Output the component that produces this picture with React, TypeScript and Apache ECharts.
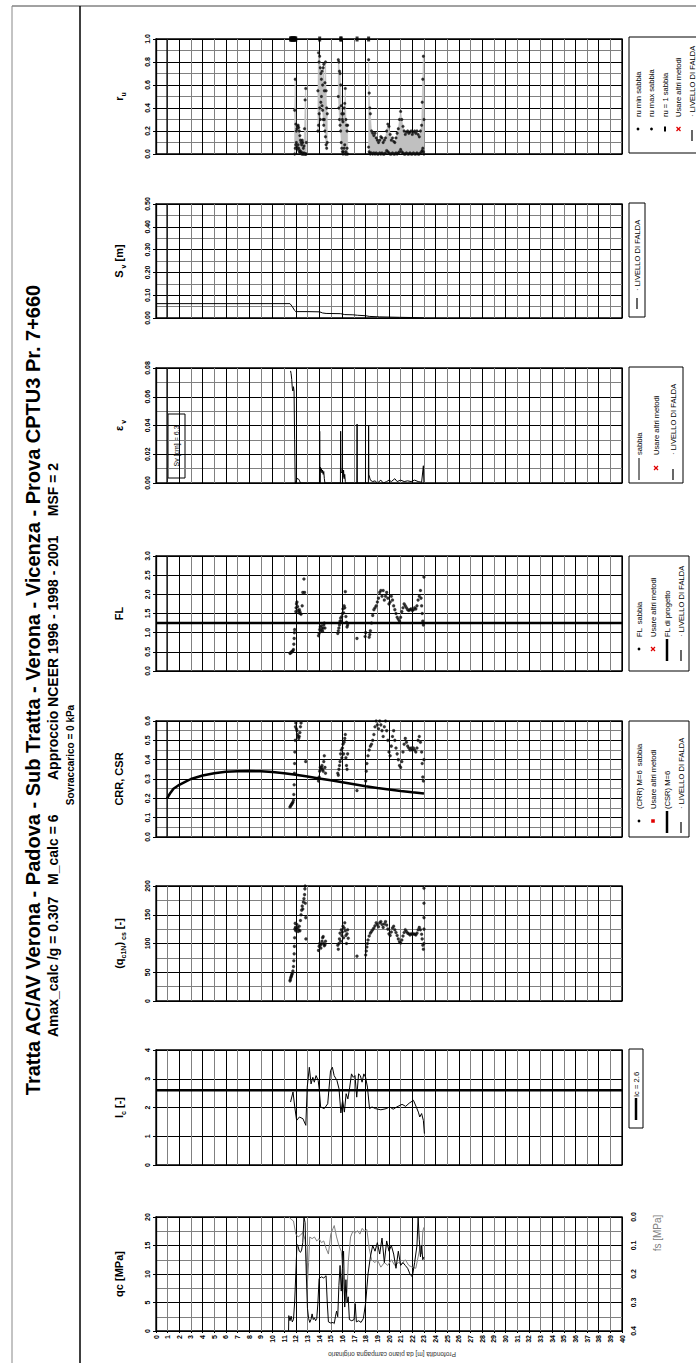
import { useEffect, useRef } from "react";
import * as echarts from "echarts";

const FONT = "'Liberation Sans', Arial, sans-serif";

// ---------------- DATA ----------------
const FALDA_DEPTH = 0.95;
const IC_LIMIT = 2.6;
const FL_PROGETTO = 1.25;

// qc [MPa] vs depth
const QC: number[][] = [[11.38,0],[11.4,2.7],[11.5,1.8],[11.6,2.6],[11.7,1.6],[11.8,2.0],[11.9,5.0],[12.0,10.0],[12.1,15.2],[12.2,14.8],[12.3,14.0],[12.4,13.8],[12.5,14.2],[12.6,15.5],[12.7,20.0],[12.8,19.0],[12.9,10.0],[13.0,4.0],[13.1,2.2],[13.2,1.5],[13.3,2.0],[13.4,3.0],[13.5,2.0],[13.6,2.3],[13.7,1.8],[13.8,2.2],[13.9,5.0],[14.0,9.2],[14.2,9.5],[14.4,9.3],[14.6,9.7],[14.7,5.0],[14.8,1.6],[15.0,1.4],[15.2,1.5],[15.3,1.3],[15.4,2.5],[15.5,3.5],[15.6,2.5],[15.7,8.0],[15.8,11.5],[15.9,7.0],[16.0,11.0],[16.1,14.0],[16.2,4.2],[16.3,9.0],[16.4,5.0],[16.5,6.0],[16.6,2.0],[16.8,1.8],[17.0,2.0],[17.1,4.8],[17.2,1.6],[17.4,1.8],[17.6,1.5],[17.8,2.2],[18.0,5.0],[18.2,10.0],[18.4,13.0],[18.6,15.0],[18.8,14.0],[19.0,15.5],[19.2,13.5],[19.4,16.3],[19.6,12.0],[19.8,15.8],[20.0,14.0],[20.2,15.0],[20.4,13.5],[20.6,11.0],[20.8,14.0],[21.0,11.5],[21.2,12.0],[21.4,11.5],[21.6,11.0],[21.8,10.0],[22.0,9.5],[22.2,12.0],[22.4,15.0],[22.5,20.0],[22.6,16.0],[22.7,13.0],[22.8,15.0],[22.9,12.5],[23.0,13.0]];

// fs [MPa] vs depth (secondary, inverted axis)
const FS: number[][] = [[11.4,0.0],[11.6,0.008],[11.8,0.014],[12.0,0.06],[12.2,0.07],[12.4,0.064],[12.6,0.054],[12.8,0.08],[12.9,0.16],[13.0,0.23],[13.1,0.16],[13.2,0.07],[13.4,0.076],[13.6,0.07],[13.8,0.084],[14.0,0.076],[14.2,0.09],[14.4,0.084],[14.6,0.11],[14.8,0.13],[15.0,0.06],[15.2,0.04],[15.3,0.03],[15.5,0.07],[15.7,0.10],[15.9,0.12],[16.1,0.22],[16.2,0.30],[16.4,0.26],[16.5,0.16],[16.7,0.07],[16.9,0.05],[17.1,0.056],[17.3,0.048],[17.5,0.06],[17.7,0.04],[17.9,0.05],[18.1,0.044],[18.3,0.11],[18.5,0.15],[18.8,0.16],[19.0,0.15],[19.3,0.176],[19.6,0.16],[19.9,0.17],[20.2,0.15],[20.5,0.17],[20.8,0.16],[21.1,0.164],[21.4,0.15],[21.7,0.17],[22.0,0.176],[22.3,0.18],[22.5,0.14],[22.7,0.10],[22.8,0.13],[22.9,0.05],[23.0,0.036]];

// Ic vs depth
const IC: number[][] = [[11.55,2.19],[11.76,2.54],[11.91,2.02],[12.07,1.55],[12.31,1.67],[12.61,1.61],[12.86,1.38],[12.98,2.7],[13.16,3.4],[13.31,2.82],[13.46,3.05],[13.59,2.88],[13.74,3.11],[13.92,2.94],[14.01,2.65],[14.13,2.02],[14.44,1.96],[14.74,2.13],[14.98,3.28],[15.14,3.4],[15.29,3.11],[15.53,2.94],[15.71,2.65],[15.87,1.81],[16.02,2.25],[16.17,1.84],[16.32,2.48],[16.47,2.3],[16.63,2.71],[16.78,3.17],[16.93,3.05],[17.08,3.11],[17.23,2.36],[17.39,3.17],[17.54,3.11],[17.69,2.88],[17.84,3.17],[17.99,3.05],[18.15,2.71],[18.33,1.96],[18.54,2.02],[18.84,1.96],[19.3,1.92],[19.76,1.96],[20.06,2.02],[20.36,1.94],[20.67,2.02],[21.12,2.11],[21.43,2.04],[21.73,2.15],[22.1,2.25],[22.34,2.02],[22.52,1.84],[22.64,1.67],[22.8,1.79],[22.95,1.55],[23.04,1.09]];

// (qc1N)cs vs depth
const QC1N: number[][] = [[11.5,35],[11.53,37],[11.56,40],[11.6,42],[11.63,44],[11.66,46],[11.7,48],[11.75,52],[11.8,60],[11.83,70],[11.86,82],[11.88,95],[11.9,110],[11.92,125],[11.95,135],[11.97,128],[12.0,122],[12.05,126],[12.1,133],[12.15,128],[12.2,121],[12.25,124],[12.3,130],[12.35,122],[12.4,140],[12.45,150],[12.5,158],[12.55,165],[12.6,160],[12.65,172],[12.7,178],[12.75,185],[12.78,195],[12.8,200],[12.82,170],[12.85,145],[12.87,108],
[13.95,88],[14.0,95],[14.05,100],[14.1,97],[14.15,92],[14.2,99],[14.25,104],[14.3,110],[14.35,112],[14.4,100],[14.45,96],[14.5,98],[14.55,104],
[15.6,97],[15.65,90],[15.7,100],[15.75,108],[15.8,118],[15.85,104],[15.9,124],[15.95,114],[16.0,120],[16.05,130],[16.1,110],[16.15,127],[16.2,136],[16.25,122],[16.3,114],[16.35,100],[16.4,117],[16.45,124],[16.5,109],
[17.25,78],
[18.0,80],[18.05,87],[18.1,94],[18.15,100],[18.2,106],[18.3,113],[18.4,118],[18.5,121],[18.6,124],[18.7,127],[18.8,131],[18.9,136],[19.0,133],[19.1,129],[19.2,136],[19.3,138],[19.4,133],[19.5,128],[19.6,134],[19.7,138],[19.8,132],[19.9,125],[20.0,117],[20.1,114],[20.2,120],[20.3,127],[20.4,130],[20.5,124],[20.6,119],[20.7,114],[20.8,108],[20.9,103],[21.0,101],[21.1,106],[21.2,113],[21.3,119],[21.4,124],[21.5,121],[21.6,118],[21.7,117],[21.8,115],[21.9,117],[22.0,116],[22.1,117],[22.2,116],[22.3,115],[22.4,118],[22.5,124],[22.6,128],[22.7,124],[22.8,116],[22.85,108],[22.9,97],[22.95,90],[23.0,100],[23.0,125],[23.0,145],[23.0,170],[23.0,196]];

// CRR (M=6) vs depth
const CRR: number[][] = [[11.5,0.155],[11.55,0.16],[11.6,0.165],[11.65,0.17],[11.7,0.175],[11.75,0.18],[11.8,0.19],[11.83,0.22],[11.86,0.27],[11.88,0.33],[11.9,0.38],[11.92,0.44],[11.95,0.5],[11.97,0.57],[12.0,0.59],[12.05,0.56],[12.1,0.55],[12.15,0.53],[12.2,0.52],[12.25,0.51],[12.3,0.52],[12.35,0.54],[12.4,0.57],[12.45,0.59],[12.85,0.39],
[13.95,0.29],[14.0,0.31],[14.05,0.34],[14.1,0.36],[14.15,0.35],[14.2,0.36],[14.25,0.37],[14.3,0.35],[14.35,0.34],[14.4,0.39],[14.45,0.42],[14.5,0.36],[14.55,0.33],
[15.6,0.33],[15.65,0.32],[15.7,0.35],[15.75,0.37],[15.8,0.39],[15.85,0.43],[15.9,0.45],[15.95,0.41],[16.0,0.46],[16.05,0.48],[16.1,0.43],[16.15,0.49],[16.2,0.51],[16.25,0.53],[16.3,0.41],[16.35,0.37],[16.4,0.35],[16.45,0.43],
[17.25,0.24],
[18.0,0.29],[18.05,0.34],[18.1,0.38],[18.2,0.42],[18.3,0.45],[18.4,0.47],[18.5,0.48],[18.6,0.5],[18.7,0.53],[18.8,0.57],[18.9,0.6],[19.0,0.58],[19.1,0.56],[19.2,0.6],[19.3,0.58],[19.4,0.55],[19.5,0.52],[19.6,0.57],[19.7,0.6],[19.8,0.55],[19.9,0.5],[20.0,0.44],[20.1,0.42],[20.2,0.47],[20.3,0.52],[20.4,0.55],[20.5,0.5],[20.6,0.46],[20.7,0.43],[20.8,0.4],[20.9,0.37],[21.0,0.36],[21.1,0.39],[21.2,0.44],[21.3,0.48],[21.4,0.51],[21.5,0.49],[21.6,0.47],[21.7,0.46],[21.8,0.45],[21.9,0.46],[22.0,0.45],[22.1,0.46],[22.2,0.45],[22.3,0.44],[22.4,0.46],[22.5,0.5],[22.6,0.52],[22.7,0.49],[22.8,0.44],[22.85,0.38],[22.9,0.31],[22.95,0.29],[23.0,0.4]];

// CSR (M=6) vs depth
const CSR: number[][] = [[0.95,0.2],[1.2,0.225],[1.5,0.25],[2.0,0.27],[2.5,0.285],[3.0,0.3],[4.0,0.318],[5.0,0.33],[6.0,0.337],[7.0,0.34],[8.0,0.341],[9.0,0.34],[10.0,0.336],[11.0,0.33],[12.0,0.322],[13.0,0.313],[14.0,0.303],[15.0,0.293],[16.0,0.283],[17.0,0.273],[18.0,0.263],[19.0,0.254],[20.0,0.246],[21.0,0.238],[22.0,0.231],[23.0,0.225]];

// FL vs depth
const FL: number[][] = [[11.5,0.46],[11.55,0.47],[11.6,0.49],[11.65,0.5],[11.7,0.51],[11.75,0.53],[11.8,0.56],[11.83,0.7],[11.86,0.85],[11.88,1.0],[11.9,1.08],[12.0,1.55],[12.03,1.65],[12.06,1.75],[12.1,1.8],[12.15,1.68],[12.2,1.58],[12.25,1.52],[12.3,1.6],[12.35,1.55],[12.4,1.5],[12.45,1.48],[12.55,1.7],[12.6,2.05],[12.7,2.4],[12.75,2.05],
[13.95,0.92],[14.0,0.98],[14.05,1.08],[14.1,1.15],[14.15,1.05],[14.2,1.18],[14.25,1.1],[14.3,1.04],[14.35,1.12],[14.4,1.2],[14.45,1.25],[14.5,1.12],
[15.6,0.98],[15.65,1.05],[15.7,1.12],[15.75,1.2],[15.8,1.3],[15.85,1.38],[15.9,1.3],[15.95,1.42],[16.0,1.5],[16.05,1.62],[16.1,1.52],[16.15,1.7],[16.2,1.65],[16.25,2.07],[16.3,1.42],[16.35,1.27],[16.4,1.15],[16.45,1.2],
[17.25,0.85],[17.95,0.9],[18.0,1.0],
[18.3,0.88],[18.35,0.95],[18.4,1.05],[18.5,1.25],[18.6,1.45],[18.7,1.6],[18.8,1.65],[18.9,1.7],[19.0,1.8],[19.1,1.9],[19.2,2.05],[19.3,2.1],[19.4,1.95],[19.5,2.1],[19.6,1.85],[19.7,1.95],[19.8,2.05],[19.9,1.9],[20.0,1.75],[20.1,1.8],[20.2,1.95],[20.3,1.85],[20.4,1.7],[20.5,1.6],[20.6,1.5],[20.7,1.4],[20.8,1.35],[20.9,1.3],[21.0,1.4],[21.1,1.55],[21.2,1.65],[21.3,1.75],[21.4,1.7],[21.5,1.65],[21.6,1.6],[21.7,1.58],[21.8,1.6],[21.9,1.62],[22.0,1.58],[22.1,1.6],[22.2,1.65],[22.3,1.62],[22.4,1.7],[22.5,1.85],[22.6,1.95],[22.7,2.1],[22.75,1.9],[22.8,1.7],[22.85,1.5],[22.9,1.3],[22.95,1.2],[23.0,2.45]];

// volumetric strain εv vs depth
const EV: number[][] = [[11.55,0.078],[11.6,0.076],[11.65,0.072],[11.7,0.066],[11.75,0.064],[11.8,0.067],[11.85,0.064],[11.9,0.03],[11.95,0.0],[12.0,0.001],[12.1,0.003],[12.2,0.003],[12.3,0.002],[12.4,0.0],[12.9,0.0],[14.03,0.0],[14.05,0.036],[14.08,0.0],[14.1,0.011],[14.15,0.008],[14.2,0.01],[14.25,0.007],[14.3,0.009],[14.35,0.006],[14.4,0.008],[14.45,0.003],[14.5,0.0],[15.83,0.0],[15.85,0.036],[15.88,0.008],[15.95,0.007],[16.0,0.01],[16.05,0.004],[16.1,0.009],[16.15,0.003],[16.2,0.006],[16.25,0.001],[16.3,0.0],[17.24,0.0],[17.26,0.041],[17.28,0.0],[18.23,0.0],[18.25,0.04],[18.27,0.006],[18.4,0.002],[18.6,0.001],[18.8,0.0015],[19.0,0.0],[19.3,0.002],[19.5,0.0],[19.8,0.001],[20.0,0.002],[20.2,0.001],[20.5,0.003],[20.7,0.001],[21.0,0.002],[21.3,0.001],[21.6,0.0015],[21.9,0.001],[22.2,0.002],[22.5,0.001],[22.8,0.0005],[22.95,0.012],[23.0,0.0]];

// settlement Sv [m] vs depth
const SV: number[][] = [[0,0.063],[11.5,0.063],[11.7,0.05],[11.9,0.033],[12.0,0.028],[13.0,0.028],[14.05,0.027],[14.3,0.022],[14.6,0.02],[15.85,0.019],[16.2,0.015],[16.9,0.014],[17.3,0.012],[18.0,0.01],[18.3,0.007],[19.2,0.005],[20.9,0.003],[22.0,0.002],[23.0,0.0]];
const SV_TOTAL_CM = "6.3";

// ru min / max per sandy layer
const RU_MAX_1: number[][] = [[11.9,0.38],[11.95,0.65],[12.0,0.26],[12.05,0.2],[12.1,0.22],[12.15,0.24],[12.2,0.25],[12.25,0.23],[12.3,0.2],[12.35,0.16],[12.4,0.12],[12.45,0.1],[12.5,0.08],[12.55,0.12],[12.6,0.1],[12.65,0.05],[12.7,0.07],[12.75,0.22],[12.8,0.47],[12.85,0.57],[12.9,0.1]];
const RU_MIN_1: number[][] = [[11.9,0.0],[11.95,0.05],[12.0,0.08],[12.05,0.1],[12.1,0.06],[12.15,0.04],[12.2,0.08],[12.25,0.05],[12.3,0.02],[12.35,0.03],[12.4,0.01],[12.45,0.02],[12.5,0.0],[12.55,0.01],[12.6,0.0],[12.65,0.0],[12.7,0.01],[12.75,0.0],[12.8,0.0],[12.85,0.0],[12.9,0.0]];
const RU_MAX_2: number[][] = [[13.9,0.55],[13.95,0.88],[14.0,0.8],[14.05,0.85],[14.1,0.75],[14.15,0.7],[14.2,0.65],[14.25,0.72],[14.3,0.6],[14.35,0.75],[14.4,0.78],[14.45,0.55],[14.5,0.62],[14.55,0.8],[14.6,0.55],[14.65,0.4],[14.7,0.35]];
const RU_MIN_2: number[][] = [[13.9,0.2],[13.95,0.25],[14.0,0.35],[14.05,0.4],[14.1,0.3],[14.15,0.45],[14.2,0.5],[14.25,0.42],[14.3,0.38],[14.35,0.3],[14.4,0.25],[14.45,0.3],[14.5,0.2],[14.55,0.15],[14.6,0.08],[14.65,0.05],[14.7,0.1]];
const RU_MAX_3: number[][] = [[15.65,0.82],[15.7,0.8],[15.75,0.72],[15.8,0.7],[15.85,0.6],[15.9,0.42],[15.95,0.35],[16.0,0.3],[16.05,0.28],[16.1,0.35],[16.15,0.4],[16.2,0.44],[16.25,0.57],[16.3,0.3],[16.35,0.25],[16.4,0.2],[16.45,0.25]];
const RU_MIN_3: number[][] = [[15.65,0.5],[15.7,0.4],[15.75,0.3],[15.8,0.25],[15.85,0.2],[15.9,0.1],[15.95,0.05],[16.0,0.02],[16.05,0.0],[16.1,0.02],[16.15,0.05],[16.2,0.08],[16.25,0.0],[16.3,0.02],[16.35,0.0],[16.4,0.05],[16.45,0.0]];
const RU_MAX_4: number[][] = [[18.25,0.82],[18.3,0.53],[18.35,0.4],[18.4,0.35],[18.5,0.2],[18.6,0.18],[18.7,0.16],[18.8,0.18],[18.9,0.14],[19.0,0.12],[19.1,0.1],[19.2,0.12],[19.3,0.15],[19.4,0.14],[19.5,0.1],[19.6,0.12],[19.7,0.14],[19.8,0.2],[19.9,0.26],[20.0,0.24],[20.1,0.17],[20.2,0.12],[20.3,0.14],[20.4,0.11],[20.5,0.1],[20.6,0.14],[20.7,0.18],[20.8,0.22],[20.9,0.3],[21.0,0.37],[21.1,0.3],[21.2,0.24],[21.3,0.2],[21.4,0.17],[21.5,0.19],[21.6,0.2],[21.7,0.18],[21.8,0.19],[21.9,0.2],[22.0,0.17],[22.1,0.19],[22.2,0.2],[22.3,0.18],[22.4,0.2],[22.5,0.17],[22.6,0.15],[22.7,0.2],[22.8,0.25],[22.85,0.45],[22.9,0.65],[22.95,0.85],[23.0,0.3]];
const RU_MIN_4: number[][] = [[18.25,0.06],[18.3,0.02],[18.35,0.01],[18.4,0.0],[18.5,0.01],[18.6,0.0],[18.7,0.01],[18.8,0.0],[18.9,0.01],[19.0,0.0],[19.1,0.0],[19.2,0.01],[19.3,0.0],[19.4,0.01],[19.5,0.0],[19.6,0.0],[19.7,0.01],[19.8,0.03],[19.9,0.02],[20.0,0.01],[20.1,0.0],[20.2,0.0],[20.3,0.01],[20.4,0.0],[20.5,0.0],[20.6,0.01],[20.7,0.0],[20.8,0.01],[20.9,0.02],[21.0,0.04],[21.1,0.02],[21.2,0.01],[21.3,0.0],[21.4,0.0],[21.5,0.01],[21.6,0.0],[21.7,0.0],[21.8,0.01],[21.9,0.0],[22.0,0.0],[22.1,0.01],[22.2,0.0],[22.3,0.0],[22.4,0.01],[22.5,0.0],[22.6,0.0],[22.7,0.01],[22.8,0.02],[22.85,0.03],[22.9,0.05],[22.95,0.02],[23.0,0.0]];
const RU_ONE: number[][] = [[11.55,1],[11.6,1],[11.65,1],[11.7,1],[11.75,1],[11.8,1],[11.85,1],[11.9,1],[11.95,1],[12.0,1],[14.05,1],[15.85,1],[15.9,1],[17.26,1],[18.25,1]];

// ---------------- LAYOUT ----------------
const GL = 156;
const GW = 466;
type Panel = { top: number; h: number; min: number; max: number; interval: number; minor: boolean; dec: number; name: string };
const PANELS: Panel[] = [
  { top: 39, h: 115, min: 0, max: 1, interval: 0.2, minor: true, dec: 1, name: "{b|r}{s|u}" },
  { top: 204, h: 114, min: 0, max: 0.5, interval: 0.1, minor: true, dec: 2, name: "{b|S}{s| v}{b| [m]}" },
  { top: 368, h: 115, min: 0, max: 0.08, interval: 0.02, minor: true, dec: 2, name: "{b|ε}{s| v}" },
  { top: 556, h: 115, min: 0, max: 3, interval: 0.5, minor: false, dec: 1, name: "{b|FL}" },
  { top: 721, h: 116, min: 0, max: 0.6, interval: 0.1, minor: true, dec: 1, name: "{b|CRR, CSR}" },
  { top: 886, h: 115, min: 0, max: 200, interval: 50, minor: true, dec: 0, name: "{b|(q}{s|c1N}{b|)}{s| cs}{b| [-]}" },
  { top: 1050, h: 115, min: 0, max: 4, interval: 1, minor: false, dec: 0, name: "{b|I}{s|c}{b| [-]}" },
  { top: 1217, h: 114, min: 0, max: 20, interval: 5, minor: true, dec: 0, name: "{b|qc [MPa]}" },
];

type LegendRow = { icon: string; text: string };
type LegendCfg = { x: number; bottom: number; len: number; wid: number; row0: number; step: number; keyX: number; textX: number; rows: LegendRow[] };
const FALDA_TXT = "· LIVELLO DI FALDA";
const LEGENDS: LegendCfg[] = [
  { x: 629, bottom: 153, len: 116, wid: 75, row0: 9, step: 13.5, keyX: 24, textX: 36,
    rows: [{ icon: "dot", text: "ru min sabbia" }, { icon: "dot", text: "ru max sabbia" }, { icon: "dash", text: "ru = 1 sabbia" }, { icon: "x", text: "Usare altri metodi" }, { icon: "falda", text: FALDA_TXT }] },
  { x: 629, bottom: 317, len: 114, wid: 16, row0: 8, step: 14, keyX: 20, textX: 26, rows: [{ icon: "falda", text: FALDA_TXT }] },
  { x: 629, bottom: 483, len: 116, wid: 54, row0: 10, step: 17, keyX: 15, textX: 28,
    rows: [{ icon: "thin", text: "sabbia" }, { icon: "x", text: "Usare altri metodi" }, { icon: "falda", text: FALDA_TXT }] },
  { x: 629, bottom: 671, len: 115, wid: 60, row0: 10, step: 14, keyX: 22, textX: 34,
    rows: [{ icon: "dot", text: "FL  sabbia" }, { icon: "x", text: "Usare altri metodi" }, { icon: "thick", text: "FL di progetto" }, { icon: "falda", text: FALDA_TXT }] },
  { x: 629, bottom: 837, len: 116, wid: 60, row0: 10, step: 14, keyX: 16, textX: 28,
    rows: [{ icon: "dot", text: "(CRR) M=6  sabbia" }, { icon: "square", text: "Usare altri metodi" }, { icon: "thick", text: "(CSR) M=6" }, { icon: "falda", text: FALDA_TXT }] },
  { x: 629, bottom: 1128, len: 79, wid: 14, row0: 7, step: 14, keyX: 20, textX: 31, rows: [{ icon: "thick", text: "Ic = 2.6" }] },
];

function legendGroup(L: LegendCfg) {
  const children: any[] = [
    { type: "rect", shape: { x: 0, y: 0, width: L.len, height: L.wid }, style: { fill: "#fff", stroke: "#000", lineWidth: 1 } },
  ];
  L.rows.forEach((r, i) => {
    const cy = L.row0 + i * L.step;
    const k = L.keyX;
    if (r.icon === "dot") children.push({ type: "circle", shape: { cx: k, cy, r: 1.4 }, style: { fill: "#000" } });
    if (r.icon === "dash") children.push({ type: "rect", shape: { x: k - 2.5, y: cy - 1, width: 5, height: 2 }, style: { fill: "#000" } });
    if (r.icon === "square") children.push({ type: "rect", shape: { x: k - 1.8, y: cy - 1.8, width: 3.6, height: 3.6 }, style: { fill: "#e00000" } });
    if (r.icon === "x") {
      children.push({ type: "line", shape: { x1: k - 2, y1: cy - 2, x2: k + 2, y2: cy + 2 }, style: { stroke: "#e00000", lineWidth: 1.3 } });
      children.push({ type: "line", shape: { x1: k - 2, y1: cy + 2, x2: k + 2, y2: cy - 2 }, style: { stroke: "#e00000", lineWidth: 1.3 } });
    }
    if (r.icon === "thick") children.push({ type: "line", shape: { x1: k - 12, y1: cy, x2: k + 10, y2: cy }, style: { stroke: "#000", lineWidth: 2.5 } });
    if (r.icon === "thin") children.push({ type: "line", shape: { x1: k - 12, y1: cy, x2: k + 10, y2: cy }, style: { stroke: "#000", lineWidth: 1 } });
    if (r.icon === "falda") children.push({ type: "line", shape: { x1: k - 12, y1: cy, x2: k - 1, y2: cy }, style: { stroke: "#000", lineWidth: 1.2 } });
    children.push({
      type: "text", x: L.textX, y: cy,
      style: { text: r.text, fontSize: 7.6, fontFamily: FONT, fill: "#000", align: "left", verticalAlign: "middle", textAlign: "left", textVerticalAlign: "middle" },
    });
  });
  return { type: "group", x: L.x, y: L.bottom, rotation: Math.PI / 2, children };
}

function rotText(x: number, y: number, text: string, size: number, bold: boolean, color = "#000", rot = Math.PI / 2) {
  return {
    type: "text", x, y, rotation: rot,
    style: { text, fontSize: size, fontWeight: bold ? "bold" : "normal", fontFamily: FONT, fill: color, align: "center", verticalAlign: "middle", textAlign: "center", textVerticalAlign: "middle" },
  };
}

function buildOption() {
  const rich = {
    b: { fontSize: 11, fontWeight: "bold", fontFamily: FONT, color: "#000", lineHeight: 17, verticalAlign: "middle" },
    s: { fontSize: 7, fontWeight: "bold", fontFamily: FONT, color: "#000", lineHeight: 17, verticalAlign: "bottom" },
  };
  const grid = PANELS.map((p) => ({ left: GL, width: GW, top: p.top, height: p.h, show: true, borderColor: "#000", borderWidth: 1.3, backgroundColor: "rgba(0,0,0,0)" }));
  const xAxis = PANELS.map((_, i) => ({
    type: "value", gridIndex: i, min: 0, max: 40, interval: 1,
    axisLine: { show: false }, axisTick: { show: i === 7, length: 2, lineStyle: { color: "#000" } },
    axisLabel: i === 7 ? { show: true, rotate: 90, fontSize: 7, fontWeight: "bold", margin: 4, color: "#000", fontFamily: FONT } : { show: false },
    splitLine: { show: true, lineStyle: { color: ["#000", "#808080"], width: 1 } },
  }));
  const yAxis: any[] = PANELS.map((p, i) => ({
    type: "value", gridIndex: i, min: p.min, max: p.max, interval: p.interval,
    axisLine: { show: true, lineStyle: { color: "#000", width: 1.3 } },
    axisTick: { show: true, length: 3, lineStyle: { color: "#000" } },
    axisLabel: { rotate: 90, fontSize: 7, fontWeight: "bold", margin: 5, color: "#000", fontFamily: FONT, formatter: (v: number) => v.toFixed(p.dec) },
    splitLine: { show: true, lineStyle: { color: "#000", width: 1 } },
    minorTick: { show: false, splitNumber: 2 },
    minorSplitLine: { show: p.minor, lineStyle: { color: "#808080", width: 1 } },
    name: p.name, nameLocation: "middle", nameRotate: 90, nameGap: 29,
    nameTextStyle: { rich },
  }));
  yAxis.push({
    type: "value", gridIndex: 7, position: "right", min: 0, max: 0.4, interval: 0.1, inverse: true,
    axisLine: { show: false }, axisTick: { show: false },
    axisLabel: { rotate: 90, fontSize: 7, fontWeight: "bold", margin: 8, color: "#000", fontFamily: FONT, formatter: (v: number) => v.toFixed(1) },
    splitLine: { show: false },
  });

  const line = (gi: number, data: number[][], width: number, color = "#000", yi = gi) => ({
    type: "line", xAxisIndex: gi, yAxisIndex: yi, data, symbol: "none", lineStyle: { color, width }, silent: true,
  });
  const scatter = (gi: number, data: number[][], size = 3, color = "#000") => ({
    type: "scatter", xAxisIndex: gi, yAxisIndex: gi, data, symbolSize: size, itemStyle: { color, borderColor: "#333", borderWidth: 0.3 }, silent: true,
  });

  const ruRegions = [
    { max: RU_MAX_1, min: RU_MIN_1 }, { max: RU_MAX_2, min: RU_MIN_2 },
    { max: RU_MAX_3, min: RU_MIN_3 }, { max: RU_MAX_4, min: RU_MIN_4 },
  ];

  const series: any[] = [
    {
      type: "custom", xAxisIndex: 0, yAxisIndex: 0, silent: true, clip: true,
      data: ruRegions.map((_, i) => [i, 0]),
      renderItem: (params: any, api: any) => {
        const r = ruRegions[params.dataIndex];
        const pts = r.max.map((p) => api.coord(p)).concat(r.min.slice().reverse().map((p) => api.coord(p)));
        return { type: "polygon", shape: { points: pts }, style: { fill: "#c0c0c0", stroke: "#c0c0c0", lineWidth: 0.6 } };
      },
    },
    scatter(0, [...RU_MIN_1, ...RU_MIN_2, ...RU_MIN_3, ...RU_MIN_4], 2.8),
    scatter(0, [...RU_MAX_1, ...RU_MAX_2, ...RU_MAX_3, ...RU_MAX_4], 2.8),
    { type: "scatter", xAxisIndex: 0, yAxisIndex: 0, data: RU_ONE, symbol: "rect", symbolSize: [3, 5], itemStyle: { color: "#000" }, silent: true },
  ];
  [0, 1, 2, 3, 4].forEach((i) => series.push(line(i, [[FALDA_DEPTH, PANELS[i].min], [FALDA_DEPTH, PANELS[i].max]], 1.3)));
  series.push(line(1, SV, 1));
  series.push(line(2, EV, 1));
  series.push(line(3, [[0, FL_PROGETTO], [40, FL_PROGETTO]], 2.5));
  series.push(scatter(3, FL, 3));
  series.push(line(4, CSR, 2.5));
  series.push(scatter(4, CRR, 3));
  series.push(scatter(5, QC1N, 3));
  series.push(line(6, [[0, IC_LIMIT], [40, IC_LIMIT]], 2.5));
  series.push(line(6, IC, 1));
  series.push(line(7, FS, 1, "#808080", 8));
  series.push(line(7, QC, 1));

  const graphic: any[] = [
    { type: "line", shape: { x1: 12, y1: 6, x2: 696, y2: 6 }, style: { stroke: "#444", lineWidth: 1 } },
    { type: "line", shape: { x1: 12, y1: 6, x2: 12, y2: 1363 }, style: { stroke: "#888", lineWidth: 1 } },
    { type: "line", shape: { x1: 80, y1: 6, x2: 80, y2: 1363 }, style: { stroke: "#000", lineWidth: 1.5 } },
    rotText(33, 690, "Tratta AC/AV Verona - Padova - Sub Tratta - Verona - Vicenza - Prova CPTU3 Pr. 7+660", 20, true),
    rotText(53, 750, "Amax_calc /g = 0.307   M_calc = 6         Approccio NCEER 1996 - 1998 - 2001     MSF = 2", 14, true),
    rotText(70, 755, "Sovraccarico = 0 kPa", 10, true),
    rotText(657, 1233, "fs [MPa]", 10, false, "#808080"),
    rotText(392, 1354, "Profondità [m] da piano campagna originario", 6.5, false, "#333", Math.PI),
    { type: "rect", shape: { x: 168, y: 414, width: 17, height: 64 }, style: { fill: "#fff", stroke: "#000", lineWidth: 1 } },
    rotText(176.5, 446, "Sv [cm] = " + SV_TOTAL_CM, 7, false),
    ...LEGENDS.map(legendGroup),
  ];

  return { animation: false, backgroundColor: "#fff", grid, xAxis, yAxis, series, graphic };
}

export default function App() {
  const ref = useRef<HTMLDivElement>(null);
  useEffect(() => {
    document.body.style.margin = "0";
    const chart = echarts.init(ref.current!, null, { renderer: "svg" });
    chart.setOption(buildOption() as any);
    return () => chart.dispose();
  }, []);
  return <div ref={ref} style={{ width: 696, height: 1363 }} />;
}
